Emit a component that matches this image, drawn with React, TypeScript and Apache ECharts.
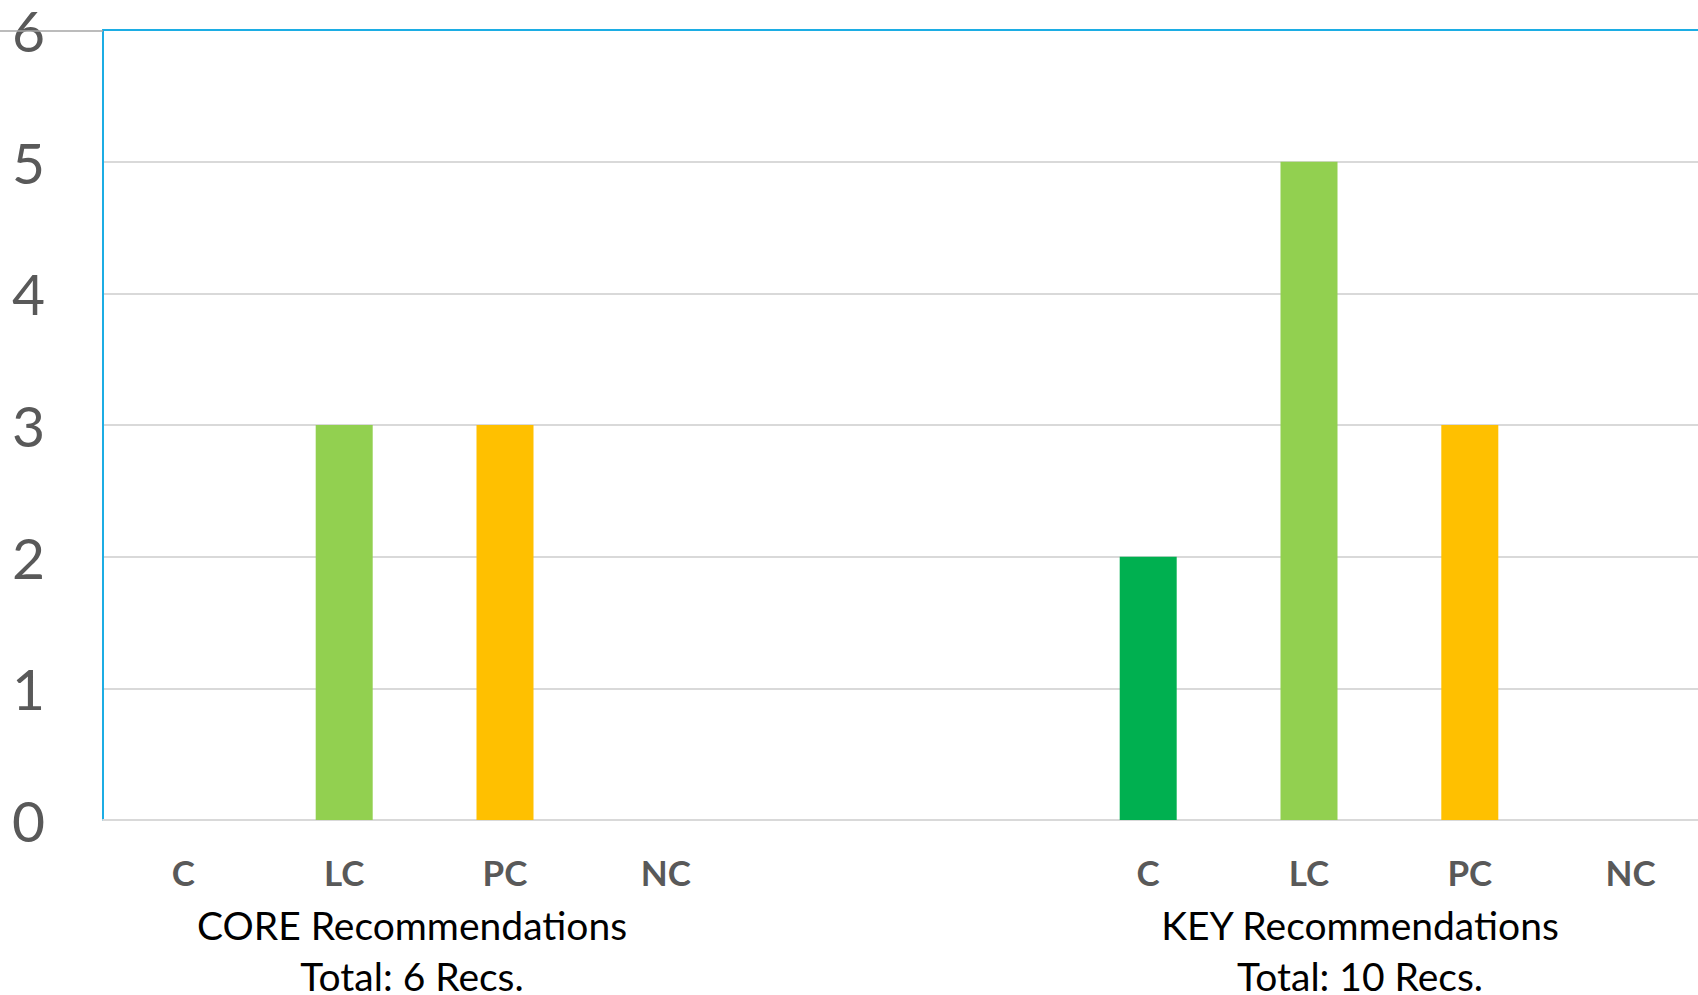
import React, { useEffect, useRef } from "react";
import * as echarts from "echarts";

const categories = ["C", "LC", "PC", "NC", "", "", "C", "LC", "PC", "NC"];
const values = [0, 3, 3, 0, null, null, 2, 5, 3, 0];
const statusColors: Record<string, string> = {
  C: "#00B050",
  LC: "#92D050",
  PC: "#FFC000",
  NC: "#C00000",
};
const groupLabels = ["CORE Recommendations", "KEY Recommendations"];
const groupTotals = ["Total: 6 Recs.", "Total: 10 Recs."];
const yTicks = [0, 1, 2, 3, 4, 5, 6];

export default function App() {
  const ref = useRef<HTMLDivElement>(null);
  useEffect(() => {
    if (!ref.current) return;
    const chart = echarts.init(ref.current, undefined, { renderer: "svg" });
    const font = "Lato, 'Open Sans', sans-serif";
    chart.setOption({
      animation: false,
      backgroundColor: "#ffffff",
      grid: { left: 103, top: 30, right: 0, bottom: 175, containLabel: false },
      xAxis: [
        {
          type: "category",
          data: categories,
          position: "bottom",
          axisLine: { show: true, lineStyle: { color: "#D9D9D9", width: 2 } },
          axisTick: { show: false },
          axisLabel: {
            interval: 0,
            margin: 34,
            color: "#595959",
            fontFamily: font,
            fontWeight: "bold",
            fontSize: 35,
          },
        },
        {
          type: "category",
          data: categories,
          position: "top",
          axisLine: { show: true, lineStyle: { color: "#1CADE4", width: 2 } },
          axisTick: { show: false },
          axisLabel: { show: false },
        },
      ],
      yAxis: {
        type: "value",
        min: yTicks[0],
        max: yTicks[yTicks.length - 1],
        interval: 1,
        axisLine: { show: true, lineStyle: { color: "#1CADE4", width: 2 } },
        axisTick: { show: false },
        splitLine: { show: true, lineStyle: { color: "#D9D9D9", width: 2 } },
        axisLabel: {
          margin: 58,
          color: "#595959",
          fontFamily: font,
          fontSize: 57,
        },
      },
      graphic: [
        {
          type: "line",
          shape: { x1: 0, y1: 31, x2: 103, y2: 31 },
          style: { stroke: "#A6A6A6", lineWidth: 1.5 },
          z: 1,
        },
        {
          type: "text",
          x: 412,
          y: 950,
          style: {
            text: groupLabels[0] + "\n" + groupTotals[0],
            fill: "#000000",
            font: `39px ${font}`,
            textAlign: "center",
            textVerticalAlign: "middle",
            lineHeight: 51,
          },
        },
        {
          type: "text",
          x: 1360,
          y: 950,
          style: {
            text: groupLabels[1] + "\n" + groupTotals[1],
            fill: "#000000",
            font: `39px ${font}`,
            textAlign: "center",
            textVerticalAlign: "middle",
            lineHeight: 51,
          },
        },
      ],
      series: [
        {
          type: "bar",
          barWidth: 57,
          data: values.map((v, i) => ({
            value: v,
            itemStyle: { color: statusColors[categories[i]] || "#cccccc" },
          })),
        },
      ],
    });
    return () => chart.dispose();
  }, []);
  return (
    <div
      style={{
        position: "fixed",
        left: 0,
        top: 0,
        width: 1698,
        height: 995,
        overflow: "hidden",
        background: "#fff",
      }}
    >
      <div ref={ref} style={{ width: 1711, height: 995 }} />
    </div>
  );
}
